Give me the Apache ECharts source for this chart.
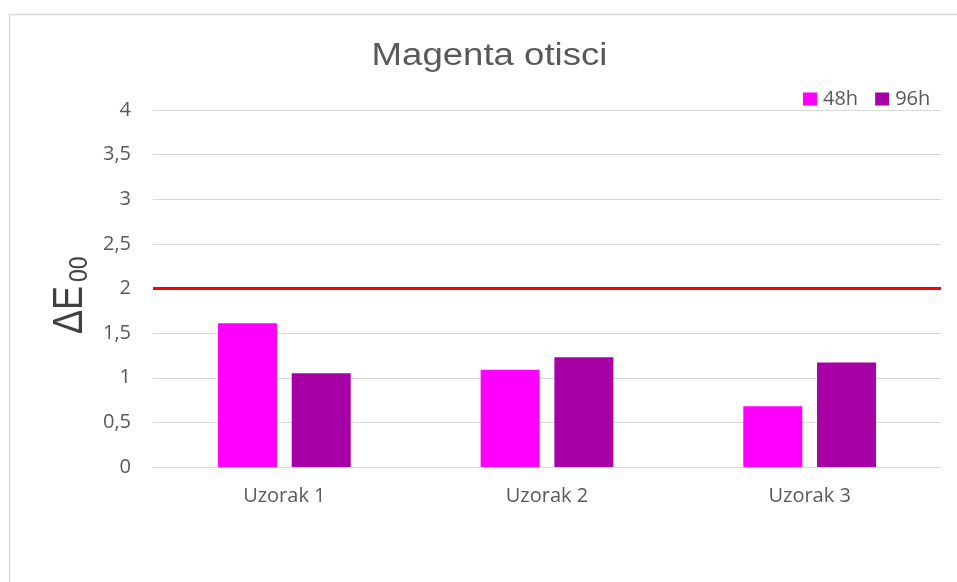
<!DOCTYPE html>
<html>
<head>
<meta charset="utf-8">
<script src="https://cdn.jsdelivr.net/npm/echarts@6/dist/echarts.min.js"></script>
<style>
html,body{margin:0;padding:0;background:#fff;}
#c{width:957px;height:582px;}
</style>
</head>
<body>
<div id="c"></div>
<script>
const categories = ['Uzorak 1', 'Uzorak 2', 'Uzorak 3'];
const seriesNames = ['48h', '96h'];
const values48h = [1.61, 1.09, 0.68];
const values96h = [1.05, 1.23, 1.17];
const thresholdValue = 2;
const titleText = 'Magenta otisci';
const yMin = 0, yMax = 4, yStep = 0.5;

const labelFont = '"Open Sans", sans-serif';
const grey = '#595959';

const chart = echarts.init(document.getElementById('c'), null, {renderer: 'canvas'});
chart.setOption({
  animation: false,
  backgroundColor: '#fff',
  grid: {left: 153, right: 16, top: 110, bottom: 115},
  legend: {
    data: seriesNames,
    left: 798, top: 84,
    itemWidth: 14, itemHeight: 13, itemGap: 17,
    icon: 'rect',
    textStyle: {color: grey, fontSize: 20, fontFamily: labelFont, padding: [0, 0, 0, 1]}
  },
  xAxis: {
    type: 'category',
    data: categories,
    axisLine: {lineStyle: {color: '#d9d9d9', width: 1}},
    axisTick: {show: false},
    axisLabel: {color: grey, fontSize: 20, fontFamily: labelFont, margin: 19}
  },
  yAxis: {
    type: 'value',
    min: yMin, max: yMax, interval: yStep,
    axisLine: {show: false},
    axisTick: {show: false},
    splitLine: {lineStyle: {color: '#d9d9d9', width: 1}},
    axisLabel: {
      color: grey, fontSize: 20, fontFamily: labelFont, margin: 22,
      formatter: v => String(v).replace('.', ',')
    }
  },
  series: [
    {
      name: seriesNames[0], type: 'bar', data: values48h,
      barWidth: 59, barGap: '25%',
      itemStyle: {color: '#ff00ff'},
      markLine: {
        silent: true, symbol: 'none',
        label: {show: false},
        lineStyle: {color: '#ff0000', width: 3, type: 'solid'},
        data: [{yAxis: thresholdValue}]
      }
    },
    {
      name: seriesNames[1], type: 'bar', data: values96h,
      barWidth: 59, barGap: '25%',
      itemStyle: {color: '#a600a6'}
    }
  ],
  graphic: [
    {
      type: 'rect', silent: true,
      shape: {x: 9.5, y: 14.5, width: 2000, height: 2000},
      style: {fill: 'none', stroke: '#d9d9d9', lineWidth: 1.5}
    },
    {
      type: 'text', silent: true,
      x: 489.5, y: 56, scaleX: 1.18,
      style: {
        text: titleText, fill: grey,
        font: '31px "Liberation Sans", Arial, sans-serif',
        align: 'center', verticalAlign: 'middle'
      }
    },
    {
      type: 'group', silent: true,
      x: 83, y: 334, rotation: Math.PI / 2, scaleY: 1.16,
      children: [
        {
          type: 'text', x: 0, y: -11,
          style: {text: 'ΔE', fill: '#404040', font: '36px "Liberation Sans", Arial, sans-serif', align: 'left', verticalAlign: 'middle'}
        },
        {
          type: 'text', x: 52, y: -3,
          style: {text: '00', fill: '#404040', font: '23px "Liberation Sans", Arial, sans-serif', align: 'left', verticalAlign: 'middle'}
        }
      ]
    }
  ]
});
</script>
</body>
</html>
